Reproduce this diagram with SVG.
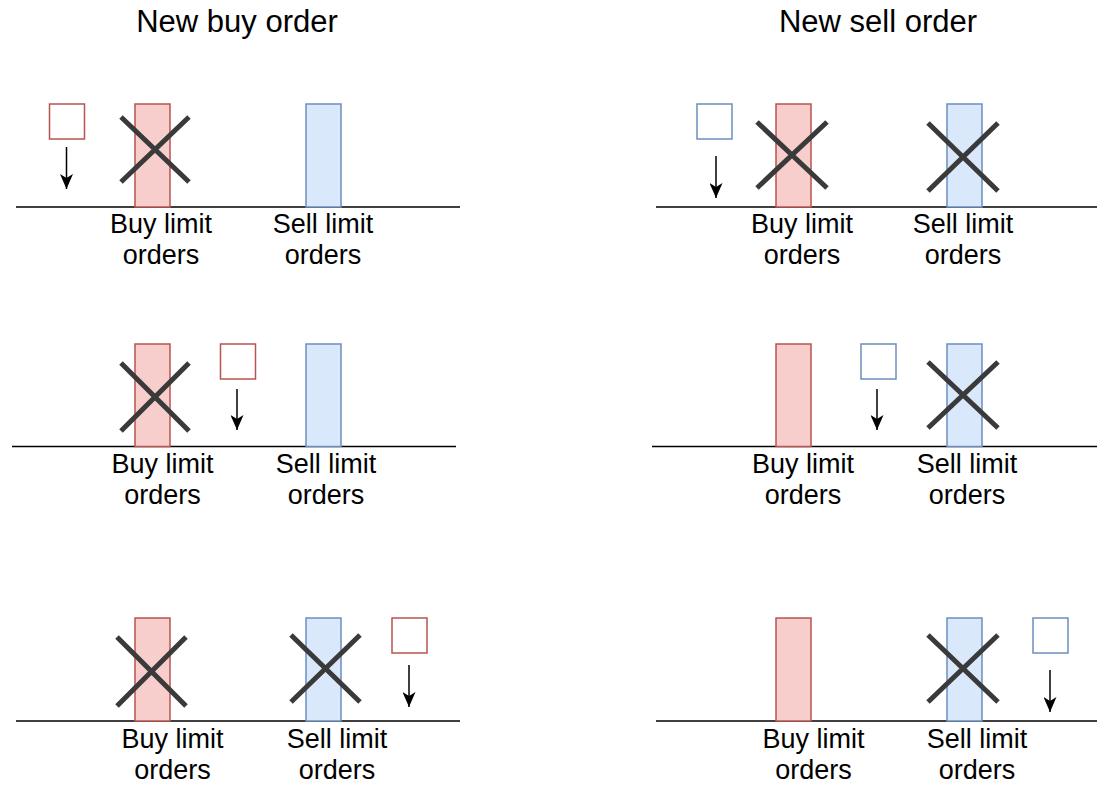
<svg xmlns="http://www.w3.org/2000/svg" width="1098" height="785" viewBox="0 0 1098 785">
<defs>
<marker id="arr" markerWidth="15" markerHeight="13" refX="15" refY="6.5" orient="auto" markerUnits="userSpaceOnUse" viewBox="0 0 15 13">
<path d="M0,0 L15,6.5 L0,13 L4,6.5 Z" fill="#000"/>
</marker>
</defs>
<style>
.base{stroke:#000;stroke-width:1.5;fill:none}
.buy{fill:#f8cecc;stroke:#b85450;stroke-width:1.5}
.sell{fill:#dae8fc;stroke:#6c8ebf;stroke-width:1.5}
.nbuy{fill:#fff;stroke:#b85450;stroke-width:1.5}
.nsell{fill:#fff;stroke:#6c8ebf;stroke-width:1.5}
.x{stroke:#3a3a3a;stroke-width:5;fill:none}
.arrow{stroke:#000;stroke-width:1.5;fill:none;marker-end:url(#arr)}
text{font-family:"Liberation Sans",Arial,sans-serif;fill:#000;text-anchor:middle}
.lbl{font-size:27px}
.title{font-size:31px}
</style>
<rect width="1098" height="785" fill="#fff"/>
<text class="title" x="237" y="32">New buy order</text>
<text class="title" x="878" y="32">New sell order</text>

<g id="panel-buy-1">
<line class="base" x1="16" y1="207" x2="460" y2="207"/>
<rect class="buy" x="135" y="104" width="35" height="103"/>
<rect class="sell" x="306" y="104" width="35" height="103"/>
<rect class="nbuy" x="49.5" y="104" width="35" height="35"/>
<path class="x" d="M121,117 L189,182 M189,117 L121,182"/>
<text class="lbl" x="161" y="233">Buy limit</text>
<text class="lbl" x="161" y="264">orders</text>
<text class="lbl" x="323" y="233">Sell limit</text>
<text class="lbl" x="323" y="264">orders</text>
</g>

<g id="panel-sell-1">
<line class="base" x1="656" y1="207" x2="1097" y2="207"/>
<rect class="buy" x="776" y="104" width="35" height="103"/>
<rect class="sell" x="947" y="104" width="35" height="103"/>
<rect class="nsell" x="697" y="104" width="35" height="35"/>
<path class="x" d="M757,122 L827,188 M827,122 L757,188"/>
<path class="x" d="M928,123 L998,191 M998,123 L928,191"/>
<text class="lbl" x="802" y="233">Buy limit</text>
<text class="lbl" x="802" y="264">orders</text>
<text class="lbl" x="963" y="233">Sell limit</text>
<text class="lbl" x="963" y="264">orders</text>
</g>

<g id="panel-buy-2">
<line class="base" x1="12" y1="446.5" x2="456" y2="446.5"/>
<rect class="buy" x="135" y="344" width="35" height="102.5"/>
<rect class="sell" x="306" y="344" width="35" height="102.5"/>
<rect class="nbuy" x="220.5" y="344" width="35" height="35"/>
<path class="x" d="M121,363 L189,431 M189,363 L121,431"/>
<text class="lbl" x="162.5" y="473">Buy limit</text>
<text class="lbl" x="162.5" y="504">orders</text>
<text class="lbl" x="326" y="473">Sell limit</text>
<text class="lbl" x="326" y="504">orders</text>
</g>

<g id="panel-sell-2">
<line class="base" x1="652" y1="446.5" x2="1097" y2="446.5"/>
<rect class="buy" x="776" y="344" width="35" height="102.5"/>
<rect class="sell" x="947" y="344" width="35" height="102.5"/>
<rect class="nsell" x="861" y="344" width="35" height="35"/>
<path class="x" d="M928,362 L998,428 M998,362 L928,428"/>
<text class="lbl" x="803" y="473">Buy limit</text>
<text class="lbl" x="803" y="504">orders</text>
<text class="lbl" x="967" y="473">Sell limit</text>
<text class="lbl" x="967" y="504">orders</text>
</g>

<g id="panel-buy-3">
<line class="base" x1="16" y1="721" x2="460" y2="721"/>
<rect class="buy" x="135" y="618" width="35" height="103"/>
<rect class="sell" x="306" y="618" width="35" height="103"/>
<rect class="nbuy" x="392" y="618" width="35" height="35"/>
<path class="x" d="M117,637 L186,706 M186,637 L117,706"/>
<path class="x" d="M291,635 L360,702 M360,635 L291,702"/>
<text class="lbl" x="172.5" y="748">Buy limit</text>
<text class="lbl" x="172.5" y="779">orders</text>
<text class="lbl" x="337" y="748">Sell limit</text>
<text class="lbl" x="337" y="779">orders</text>
</g>

<g id="panel-sell-3">
<line class="base" x1="656" y1="721" x2="1097" y2="721"/>
<rect class="buy" x="776" y="618" width="35" height="103"/>
<rect class="sell" x="947" y="618" width="35" height="103"/>
<rect class="nsell" x="1033" y="618" width="35" height="35"/>
<path class="x" d="M928,635 L998,702 M998,635 L928,702"/>
<text class="lbl" x="813.5" y="748">Buy limit</text>
<text class="lbl" x="813.5" y="779">orders</text>
<text class="lbl" x="977" y="748">Sell limit</text>
<text class="lbl" x="977" y="779">orders</text>
</g>

<g id="connectors">
<line class="arrow" x1="66.5" y1="147" x2="66.5" y2="189"/>
<line class="arrow" x1="716" y1="156" x2="716" y2="198"/>
<line class="arrow" x1="237" y1="389" x2="237" y2="430"/>
<line class="arrow" x1="877" y1="389" x2="877" y2="430"/>
<line class="arrow" x1="409" y1="665" x2="409" y2="707"/>
<line class="arrow" x1="1050" y1="670" x2="1050" y2="712"/>
</g>
</svg>
